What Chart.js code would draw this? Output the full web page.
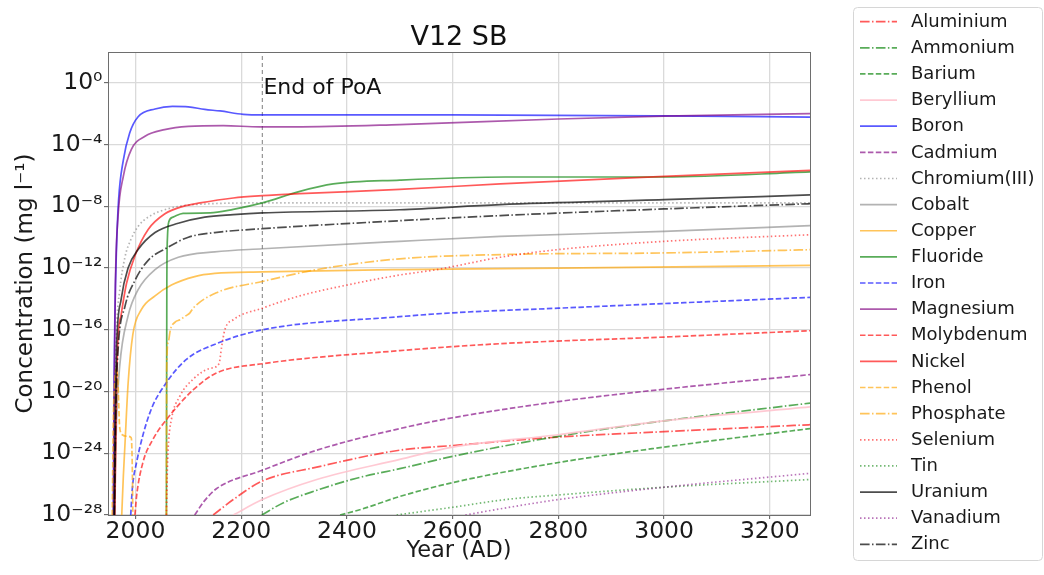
<!DOCTYPE html>
<html>
<head>
<meta charset="utf-8">
<title>V12 SB</title>
<script src="https://cdn.jsdelivr.net/npm/chart.js@4.4.0/dist/chart.umd.min.js"></script>
<style>
    html, body { margin: 0; padding: 0; background: #fff; }
    #wrap { width: 1044px; height: 575px; }
</style>
</head>
<body>
<div id="wrap"><canvas id="graph_v12" width="1044" height="575"></canvas></div>
<script>
// axis ticks
var yearTicks = [2000, 2200, 2400, 2600, 2800, 3000, 3200];
var powerTicks = [-28, -24, -20, -16, -12, -8, -4, 0];
var yearMin = 1948, yearMax = 3276;
var powerMin = -28, powerMax = 2;
var poaYear = 2240;
var poaLabelYear = 2242, poaLabelValue = 0.2;

// each curve: [year, log10 of concentration in mg/l]
var aluminium = [[2147, -28], [2185, -27], [2240, -25.8], [2343, -24.9], [2500, -23.8], [2600, -23.5], [2800, -22.95], [3000, -22.6], [3276, -22.15]];
var ammonium = [[2239, -28], [2280, -27.2], [2343, -26.4], [2420, -25.6], [2500, -25.0], [2600, -24.2], [2800, -22.9], [3000, -21.9], [3276, -20.75]];
var barium = [[2387, -28], [2430, -27.6], [2500, -26.8], [2600, -25.9], [2800, -24.6], [3000, -23.6], [3276, -22.4]];
var beryllium = [[2185, -28], [2240, -27], [2343, -25.7], [2500, -24.4], [2600, -23.6], [2800, -22.8], [3000, -21.9], [3276, -21.0]];
var boron = [[1958, -28], [1959.5, -19.4], [1961, -15.1], [1964, -10.8], [1968, -7.6], [1977, -5], [1989, -3.25], [2005, -2.2], [2037, -1.69], [2070, -1.52], [2100, -1.55], [2131, -1.72], [2160, -1.82], [2204, -2.04], [2240, -2.08], [2600, -2.08], [3000, -2.14], [3276, -2.22]];
var cadmium = [[2112, -28], [2130, -27.1], [2153, -26.3], [2240, -25.1], [2343, -23.8], [2500, -22.4], [2600, -21.7], [2800, -20.65], [3000, -19.85], [3276, -18.9]];
var chromium = [[1958, -28], [1961, -20], [1964, -16], [1970, -13.5], [1980, -11.3], [1992, -10.1], [2005, -9.3], [2024, -8.7], [2068, -8.1], [2131, -7.85], [2240, -7.78], [3276, -7.78]];
var cobalt = [[1960, -28], [1964, -22], [1970, -18.4], [1986, -15.1], [2005, -13.4], [2037, -12.1], [2081, -11.3], [2150, -10.95], [2240, -10.75], [2500, -10.27], [2690, -9.95], [3000, -9.62], [3276, -9.25]];
var copper = [[1974, -28], [1977, -25.5], [1980, -23.5], [1986, -19.5], [1995, -16.3], [2011, -14.7], [2037, -13.8], [2068, -13.1], [2112, -12.55], [2150, -12.35], [2240, -12.25], [2500, -12.1], [2800, -12.0], [3276, -11.83]];
var fluoride = [[2058.5, -28], [2059.3, -13], [2060.5, -10], [2063, -9.0], [2071, -8.7], [2090, -8.45], [2141, -8.43], [2185, -8.2], [2240, -7.78], [2311, -7.03], [2374, -6.55], [2500, -6.3], [2700, -6.1], [3000, -6.1], [3276, -5.77]];
var iron = [[1991, -28], [1994, -26.3], [2002, -24.6], [2027, -21.4], [2059, -19.4], [2097, -17.9], [2153, -16.9], [2240, -16.0], [2500, -15.15], [2600, -14.9], [2800, -14.6], [3000, -14.3], [3276, -13.9]];
var magnesium = [[1958.5, -28], [1960, -19], [1962, -13], [1967, -8.65], [1977, -6.06], [1992, -4.33], [2018, -3.46], [2055, -3.03], [2100, -2.82], [2166, -2.77], [2235, -2.85], [2300, -2.85], [2500, -2.7], [2800, -2.34], [3000, -2.16], [3276, -1.99]];
var molybdenum = [[1999, -28], [2002, -26.8], [2014, -24.6], [2033, -23.1], [2059, -21.8], [2109, -19.9], [2153, -18.8], [2240, -18.2], [2500, -17.35], [2690, -16.9], [3000, -16.47], [3276, -16.06]];
var nickel = [[1961, -28], [1964, -20], [1967, -16.5], [1973, -15], [1983, -13], [1999, -11.2], [2024, -9.5], [2055, -8.5], [2090, -8.0], [2122, -7.78], [2185, -7.46], [2240, -7.31], [2311, -7.18], [2500, -6.9], [2690, -6.55], [3000, -6.06], [3276, -5.67]];
var phenol = [[1956, -28], [1958, -22], [1961, -19.2], [1964, -18.5], [1967, -19.5], [1970, -22.3], [1975, -22.8], [1985, -22.9], [1992, -23], [1994, -25], [1995, -28]];
var phosphate = [[2058.5, -28], [2059, -18.5], [2062, -16.8], [2066, -16], [2075, -15.5], [2084, -15.35], [2095, -15.1], [2103, -14.9], [2109, -14.6], [2153, -13.6], [2240, -12.87], [2343, -12.1], [2500, -11.4], [2700, -11.12], [3000, -11.02], [3276, -10.81]];
var selenium = [[2058.5, -28], [2060, -25.5], [2062, -23.6], [2068, -21.8], [2084, -20.3], [2109, -19.2], [2141, -18.5], [2158, -18.2], [2163, -17.1], [2169, -16], [2185, -15.35], [2240, -14.6], [2311, -13.8], [2400, -13.1], [2500, -12.45], [2570, -12.1], [2690, -11.3], [2800, -10.8], [3000, -10.27], [3276, -9.84]];
var tin = [[2494, -28], [2600, -27.5], [2700, -27.0], [2800, -26.7], [3000, -26.2], [3276, -25.7]];
var uranium = [[1960, -28], [1962, -21], [1964, -17.3], [1973, -14], [1986, -12], [2005, -10.8], [2037, -9.7], [2081, -9.1], [2131, -8.7], [2185, -8.54], [2240, -8.43], [2500, -8.22], [2690, -7.89], [3000, -7.57], [3276, -7.26]];
var vanadium = [[2624, -28], [2690, -27.6], [2800, -27.0], [3000, -26.2], [3276, -25.3]];
var zinc = [[1960, -28], [1963, -21], [1967, -17.3], [1980, -14.5], [1999, -12.8], [2024, -11.5], [2059, -10.7], [2100, -10.0], [2150, -9.7], [2240, -9.45], [2500, -8.93], [2690, -8.6], [3000, -8.17], [3276, -7.83]];

var seriesNames = ['Aluminium', 'Ammonium', 'Barium', 'Beryllium', 'Boron', 'Cadmium', 'Chromium(III)', 'Cobalt', 'Copper', 'Fluoride', 'Iron',
    'Magnesium', 'Molybdenum', 'Nickel', 'Phenol', 'Phosphate', 'Selenium', 'Tin', 'Uranium', 'Vanadium', 'Zinc'];
var seriesData = [aluminium, ammonium, barium, beryllium, boron, cadmium, chromium, cobalt, copper, fluoride, iron,
    magnesium, molybdenum, nickel, phenol, phosphate, selenium, tin, uranium, vanadium, zinc];

// line styles (matplotlib-like)
var SOLID = [], DASHED = [5.5, 2.4], DASHDOT = [9.6, 2.4, 1.5, 2.4], DOTTED = [1.5, 2.5];
var RED = 'rgba(255,0,0,0.65)', GREEN = 'rgba(0,128,0,0.65)', BLUE = 'rgba(0,0,255,0.65)', PURPLE = 'rgba(128,0,128,0.65)',
    GRAY = 'rgba(128,128,128,0.6)', ORANGE = 'rgba(255,165,0,0.65)', BLACK = 'rgba(0,0,0,0.7)', PINK = 'rgba(255,192,203,0.85)';
var seriesColors = [RED, GREEN, GREEN, PINK, BLUE, PURPLE, GRAY, GRAY, ORANGE, GREEN, BLUE,
    PURPLE, RED, RED, ORANGE, ORANGE, 'rgba(255,0,0,0.55)', 'rgba(0,128,0,0.55)', BLACK, 'rgba(128,0,128,0.55)', BLACK];
var seriesDash = [DASHDOT, DASHDOT, DASHED, SOLID, SOLID, DASHED, DOTTED, SOLID, SOLID, SOLID, DASHED,
    SOLID, DASHED, SOLID, DASHED, DASHDOT, DOTTED, DOTTED, SOLID, DOTTED, DASHDOT];

var SUP = { '0': '\u2070', '1': '\u00b9', '2': '\u00b2', '3': '\u00b3', '4': '\u2074', '5': '\u2075', '6': '\u2076', '7': '\u2077', '8': '\u2078', '9': '\u2079', '-': '\u207b' };
var FONT = "'DejaVu Sans', sans-serif";

function powerLabel(value) {
    var e = Math.round(Math.log10(value));
    return '10' + String(e).split('').map(function (c) { return SUP[c]; }).join('');
}

function toPoints(list) {
    return list.map(function (p) {
        return { x: p[0], y: Math.pow(10, p[1]) };
    });
}

function buildDatasets() {
    var sets = [];
    sets.push({
        label: 'End of PoA',
        inLegend: false,
        data: [{ x: poaYear, y: Math.pow(10, powerMin) }, { x: poaYear, y: Math.pow(10, powerMax) }],
        borderColor: 'rgba(128,128,128,0.85)',
        borderWidth: 1.2,
        borderDash: [4, 3],
        order: 100
    });
    for (var i = 0; i < seriesNames.length; i++) {
        sets.push({
            label: seriesNames[i],
            data: toPoints(seriesData[i]),
            borderColor: seriesColors[i],
            borderWidth: 1.7,
            borderDash: seriesDash[i],
            cubicInterpolationMode: 'monotone',
            order: seriesNames.length - i
        });
    }
    return sets;
}

// frame, legend box and the PoA text
var decorPlugin = {
    id: 'decor',
    afterDatasetsDraw: function (chart) {
        var ctx = chart.ctx, a = chart.chartArea;
        var xs = chart.scales.x, ys = chart.scales.y;
        ctx.save();
        ctx.strokeStyle = '#6e6e6e';
        ctx.lineWidth = 1;
        ctx.strokeRect(Math.round(a.left) + 0.5, Math.round(a.top) + 0.5, Math.round(a.right - a.left), Math.round(a.bottom - a.top));
        ctx.fillStyle = '#111';
        ctx.font = '22px ' + FONT;
        ctx.textBaseline = 'alphabetic';
        ctx.textAlign = 'left';
        ctx.fillText('End of PoA', xs.getPixelForValue(poaLabelYear), ys.getPixelForValue(poaLabelValue));
        ctx.restore();
    },
    afterDraw: function (chart) {
        var ctx = chart.ctx;
        var boxX = 853.5, boxY = 7.5, boxW = 189, boxH = 553, r = 4;
        ctx.save();
        ctx.beginPath();
        ctx.moveTo(boxX + r, boxY);
        ctx.arcTo(boxX + boxW, boxY, boxX + boxW, boxY + boxH, r);
        ctx.arcTo(boxX + boxW, boxY + boxH, boxX, boxY + boxH, r);
        ctx.arcTo(boxX, boxY + boxH, boxX, boxY, r);
        ctx.arcTo(boxX, boxY, boxX + boxW, boxY, r);
        ctx.closePath();
        ctx.fillStyle = '#fff';
        ctx.fill();
        ctx.strokeStyle = '#d6d6d6';
        ctx.lineWidth = 1;
        ctx.stroke();

        var row = 0;
        chart.data.datasets.forEach(function (ds) {
            if (ds.inLegend === false) {
                return;
            }
            var y = 21.7 + row * 26.13;
            ctx.beginPath();
            ctx.setLineDash(ds.borderDash || []);
            ctx.strokeStyle = ds.borderColor;
            ctx.lineWidth = ds.borderWidth;
            ctx.moveTo(860, y);
            ctx.lineTo(897, y);
            ctx.stroke();
            ctx.setLineDash([]);
            ctx.fillStyle = '#1a1a1a';
            ctx.font = '18px ' + FONT;
            ctx.textBaseline = 'middle';
            ctx.textAlign = 'left';
            ctx.fillText(ds.label, 911, y + 0.5);
            row++;
        });
        ctx.restore();
    }
};

Chart.defaults.font.family = FONT;
Chart.defaults.color = '#1a1a1a';

var ctx = document.getElementById('graph_v12').getContext('2d');
var concentrationChart = new Chart(ctx, {
    type: 'line',
    data: { datasets: buildDatasets() },
    plugins: [decorPlugin],
    options: {
        responsive: false,
        devicePixelRatio: 1,
        animation: false,
        events: [],
        layout: { padding: { left: 0, right: 234, top: 0, bottom: 0 } },
        elements: {
            point: { radius: 0, hitRadius: 0 },
            line: { fill: false }
        },
        plugins: {
            legend: { display: false },
            tooltip: { enabled: false },
            title: {
                display: true,
                text: 'V12 SB',
                fullSize: false,
                color: '#111',
                font: { size: 27, weight: 'normal', lineHeight: 1 },
                padding: { top: 24, bottom: 1 }
            }
        },
        scales: {
            x: {
                type: 'linear',
                min: yearMin,
                max: yearMax,
                afterBuildTicks: function (scale) {
                    scale.ticks = yearTicks.map(function (v) { return { value: v }; });
                },
                afterFit: function (scale) {
                    scale.height = 60;
                },
                ticks: {
                    font: { size: 23.5, lineHeight: 1 },
                    padding: 1,
                    maxRotation: 0,
                    autoSkip: false,
                    callback: function (v) { return String(v); }
                },
                grid: { color: '#dadada', lineWidth: 1.3, tickLength: 4, tickColor: '#555', tickWidth: 1 },
                border: { display: false },
                title: {
                    display: true,
                    text: 'Year (AD)',
                    font: { size: 22.5, lineHeight: 1.2 },
                    padding: { top: 0, bottom: 10 }
                }
            },
            y: {
                type: 'logarithmic',
                min: Math.pow(10, powerMin),
                max: Math.pow(10, powerMax),
                afterBuildTicks: function (scale) {
                    scale.ticks = powerTicks.map(function (p) { return { value: Math.pow(10, p) }; });
                },
                afterFit: function (scale) {
                    scale.width = 108;
                },
                ticks: {
                    font: { size: 23.5, lineHeight: 1 },
                    padding: 1.5,
                    autoSkip: false,
                    callback: function (v) { return powerLabel(v); }
                },
                grid: { color: '#dadada', lineWidth: 1.3, tickLength: 4, tickColor: '#555', tickWidth: 1 },
                border: { display: false },
                title: {
                    display: true,
                    text: 'Concentration (mg l\u207b\u00b9)',
                    font: { size: 23, lineHeight: 1.2 },
                    padding: { top: 12, bottom: 0 }
                }
            }
        }
    }
});
</script>
</body>
</html>
